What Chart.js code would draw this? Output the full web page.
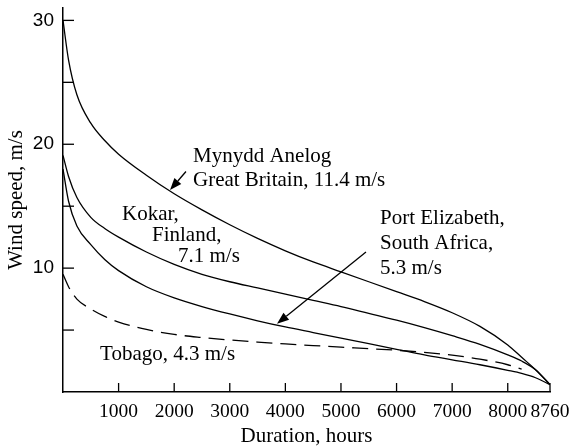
<!DOCTYPE html>
<html>
<head>
<meta charset="utf-8">
<script src="https://cdn.jsdelivr.net/npm/chart.js@4"></script>
<style>
body{margin:0;background:#fff}
#wrap{width:577px;height:447px}
</style>
</head>
<body>
<div id="wrap"><canvas id="cv" width="577" height="447"></canvas></div>
<script>
// duration in hours (x axis)
const hours = [0, 100, 250, 500, 750, 1000, 1500, 2000, 2500, 3000, 3500, 4000, 4500, 5000, 5500, 6000, 6500, 7000, 7500, 8000, 8250, 8500, 8760];

// wind speed in m/s for each site
const mynydd = [30, 26.8, 24.0, 21.7, 20.3, 19.2, 17.5, 16.0, 14.7, 13.5, 12.4, 11.4, 10.5, 9.7, 8.9, 8.1, 7.3, 6.4, 5.3, 3.8, 2.8, 1.8, 0.6];
const kokar = [19.1, 17.4, 15.7, 14.1, 13.2, 12.5, 11.3, 10.3, 9.5, 8.9, 8.4, 7.9, 7.4, 6.9, 6.35, 5.8, 5.2, 4.55, 3.85, 3.0, 2.5, 1.8, 0.6];
const portElizabeth = [18.0, 15.4, 13.4, 11.9, 10.7, 9.8, 8.5, 7.6, 6.9, 6.3, 5.75, 5.25, 4.8, 4.35, 3.9, 3.45, 3.0, 2.6, 2.2, 1.75, 1.5, 1.15, 0.6];
const tobago = [9.5, 8.5, 7.5, 6.7, 6.1, 5.65, 5.05, 4.65, 4.4, 4.2, 4.03, 3.88, 3.75, 3.62, 3.5, 3.37, 3.2, 2.97, 2.65, 2.2, 1.85, null, null];

// tick values
const xTicks = [1000, 2000, 3000, 4000, 5000, 6000, 7000, 8000, 8760];
const yTicks = [5, 10, 15, 20, 25, 30];

// labels on the plot (in axis units: hours, m/s)
const notes = [
    {text: "Mynydd Anelog", x: 2338, y: 19.0},
    {text: "Great Britain, 11.4 m/s", x: 2338, y: 17.1},
    {text: "Kokar,", x: 1061, y: 14.3},
    {text: "Finland,", x: 1601, y: 12.6},
    {text: "7.1 m/s", x: 2069, y: 10.9},
    {text: "Port Elizabeth,", x: 5702, y: 14.0},
    {text: "South Africa,", x: 5702, y: 11.95},
    {text: "5.3 m/s", x: 5702, y: 10.0},
    {text: "Tobago, 4.3 m/s", x: 666, y: 3.0}
];
const arrows = [
    {from: [2212, 17.8], to: [1925, 16.3]},
    {from: [5450, 11.3], to: [3849, 5.5]}
];

function toPoints(arr){
    return hours.map((h, i) => ({x: h, y: arr[i]}));
}

function lineSet(label, arr, dash){
    return {
        label: label,
        data: toPoints(arr),
        borderColor: "#000",
        borderWidth: 1.3,
        borderDash: dash || [],
        pointRadius: 0,
        fill: false,
        cubicInterpolationMode: "monotone",
        spanGaps: false
    };
}

// inward ticks, texts and arrows
const deco = {
    id: "deco",
    afterDraw(chart){
        const {ctx, scales: {x, y}} = chart;
        ctx.save();
        ctx.strokeStyle = "#000";
        ctx.lineWidth = 1.3;
        yTicks.forEach((v) => {
            let py = y.getPixelForValue(v);
            ctx.beginPath();
            ctx.moveTo(x.left, py);
            ctx.lineTo(x.left + 11, py);
            ctx.stroke();
        });
        xTicks.forEach((v) => {
            let px = x.getPixelForValue(v);
            ctx.beginPath();
            ctx.moveTo(px, y.bottom);
            ctx.lineTo(px, y.bottom - 9);
            ctx.stroke();
        });

        ctx.fillStyle = "#000";
        ctx.font = '21px "Liberation Serif"';
        ctx.textAlign = "left";
        ctx.textBaseline = "middle";
        notes.forEach((n) => {
            ctx.fillText(n.text, x.getPixelForValue(n.x), y.getPixelForValue(n.y));
        });

        arrows.forEach((a) => {
            let x0 = x.getPixelForValue(a.from[0]), y0 = y.getPixelForValue(a.from[1]);
            let x1 = x.getPixelForValue(a.to[0]), y1 = y.getPixelForValue(a.to[1]);
            let ang = Math.atan2(y1 - y0, x1 - x0);
            let len = 12, half = 4.5;
            let bx = x1 - len * Math.cos(ang), by = y1 - len * Math.sin(ang);
            ctx.beginPath();
            ctx.moveTo(x0, y0);
            ctx.lineTo(bx, by);
            ctx.stroke();
            ctx.beginPath();
            ctx.moveTo(x1, y1);
            ctx.lineTo(bx + half * Math.sin(ang), by - half * Math.cos(ang));
            ctx.lineTo(bx - half * Math.sin(ang), by + half * Math.cos(ang));
            ctx.closePath();
            ctx.fill();
        });
        ctx.restore();
    }
};

const config = {
    type: "line",
    data: {
        datasets: [
            lineSet("Mynydd Anelog", mynydd),
            lineSet("Kokar", kokar),
            lineSet("Port Elizabeth", portElizabeth),
            lineSet("Tobago", tobago, [16, 8])
        ]
    },
    options: {
        responsive: false,
        animation: false,
        layout: {padding: {left: 0, right: 27, top: 8, bottom: 0}},
        plugins: {legend: {display: false}, tooltip: {enabled: false}},
        scales: {
            x: {
                type: "linear",
                min: 0,
                max: 8760,
                afterBuildTicks: (s) => { s.ticks = xTicks.map((v) => ({value: v})); },
                afterFit: (s) => { s.height = 55; s.paddingLeft = 0; s.paddingRight = 0; },
                grid: {display: false, drawTicks: false},
                border: {display: true, color: "#000", width: 1.5},
                ticks: {
                    autoSkip: false,
                    maxRotation: 0,
                    padding: 10,
                    color: "#000",
                    font: {family: "Liberation Serif", size: 19.5, lineHeight: 1},
                    callback: (v) => String(v)
                },
                title: {
                    display: true,
                    text: "Duration, hours",
                    color: "#000",
                    font: {family: "Liberation Serif", size: 21, lineHeight: 1},
                    padding: 0
                }
            },
            y: {
                type: "linear",
                min: 0,
                max: 31,
                afterBuildTicks: (s) => { s.ticks = yTicks.map((v) => ({value: v})); },
                afterFit: (s) => { s.width = 63; s.paddingTop = 0; s.paddingBottom = 0; },
                grid: {display: false, drawTicks: false},
                border: {display: true, color: "#000", width: 1.5},
                ticks: {
                    padding: 9,
                    color: "#000",
                    font: {family: "Liberation Sans", size: 19},
                    callback: (v) => (v % 10 === 0 ? String(v) : "")
                },
                title: {
                    display: true,
                    text: "Wind speed, m/s",
                    color: "#000",
                    font: {family: "Liberation Serif", size: 21, lineHeight: 1.2},
                    padding: {top: 4, bottom: 0}
                }
            }
        }
    },
    plugins: [deco]
};

new Chart(document.getElementById("cv").getContext("2d"), config);
</script>
</body>
</html>
